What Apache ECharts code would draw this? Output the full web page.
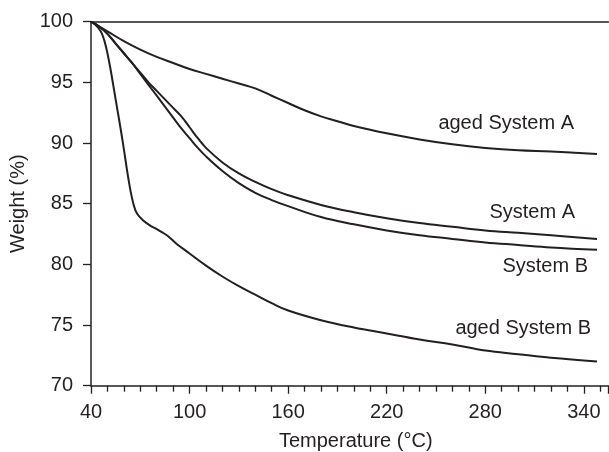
<!DOCTYPE html>
<html>
<head>
<meta charset="utf-8">
<script src="https://cdn.jsdelivr.net/npm/echarts@6/dist/echarts.min.js"></script>
<style>html,body{margin:0;padding:0;background:#fff}#c{width:609px;height:452px}</style>
</head>
<body>
<div id="c"></div>
<script>
// Data
const tempAgedA = [40,45,50,60,70,80,90,100,110,120,130,140,150,160,170,180,190,200,220,240,260,280,300,320,348];
const wAgedA    = [100,99.6,99.2,98.4,97.7,97.1,96.6,96.1,95.7,95.3,94.9,94.5,93.9,93.3,92.7,92.2,91.8,91.4,90.8,90.3,89.9,89.6,89.4,89.3,89.1];

const tempSysA = [40,45,50,55,60,65,70,75,80,85,90,95,100,105,110,120,130,140,150,160,180,200,220,240,260,280,300,320,348];
const wSysA    = [100,99.6,99.0,98.2,97.4,96.6,95.8,95.0,94.3,93.6,92.9,92.2,91.3,90.4,89.6,88.4,87.5,86.8,86.2,85.7,84.9,84.3,83.8,83.4,83.1,82.8,82.6,82.4,82.1];

const tempSysB = [40,45,50,55,60,65,70,75,80,85,90,95,100,105,110,120,130,140,150,160,180,200,220,240,260,280,300,320,348];
const wSysB    = [100,99.6,99.0,98.2,97.4,96.6,95.7,94.8,93.9,93.0,92.1,91.2,90.4,89.6,88.9,87.7,86.7,85.9,85.3,84.8,83.9,83.3,82.8,82.4,82.1,81.8,81.6,81.4,81.2];

const tempAgedB = [40,43,46,48,50,52,54,56,58,60,62,64,66,68,72,76,80,85,88,92,100,110,120,130,140,150,160,180,200,220,240,260,280,300,320,348];
const wAgedB    = [100,99.7,99.2,98.5,97.4,96.0,94.4,92.8,91.2,89.5,87.7,86.1,84.9,84.2,83.6,83.2,82.9,82.5,82.2,81.7,80.9,79.9,79.0,78.2,77.5,76.8,76.2,75.4,74.8,74.3,73.8,73.4,72.9,72.6,72.3,72.0];

const xTickInterval = 60;
const yTickInterval = 5;
const seriesNames = ['aged System A','System A','System B','aged System B'];

function pairs(t, w) { return t.map((v, i) => [v, w[i]]); }

const INK = '#231f20';
const FONT = 'Liberation Sans, Arial, Helvetica, sans-serif';

const chart = echarts.init(document.getElementById('c'));
const lineSeries = (name, t, w) => ({
  name, type: 'line', data: pairs(t, w), showSymbol: false, smooth: 0.4,
  lineStyle: { color: INK, width: 2 }, itemStyle: { color: INK }, silent: true, animation: false
});

chart.setOption({
  animation: false,
  backgroundColor: '#fff',
  grid: { left: 91, top: 21.7, width: 517.5, height: 364, containLabel: false, outerBoundsMode: 'none' },
  xAxis: [{
    type: 'value', min: 40, max: 355, interval: xTickInterval,
    name: 'Temperature (°C)', nameLocation: 'middle', nameGap: 46,
    nameTextStyle: { fontSize: 20, color: INK, fontFamily: FONT, padding: [0, 0, 0, 12] },
    axisLine: { lineStyle: { color: INK, width: 1.5 } },
    axisTick: { show: true, length: 8, lineStyle: { color: INK, width: 1.3 } },
    minorTick: { show: true, splitNumber: 6, length: 6, lineStyle: { color: INK, width: 1.3 } },
    splitLine: { show: false }, minorSplitLine: { show: false },
    axisLabel: { fontSize: 20, margin: 17, color: INK, fontFamily: FONT, showMaxLabel: false,
      formatter: v => ((v - 40) % xTickInterval === 0 ? String(v) : '') }
  }, {
    type: 'value', min: 40, max: 355, position: 'top',
    axisLine: { show: true, lineStyle: { color: INK, width: 1.5 } },
    axisTick: { show: false }, axisLabel: { show: false }, splitLine: { show: false }
  }],
  yAxis: {
    type: 'value', min: 70, max: 100, interval: yTickInterval,
    name: 'Weight (%)', nameLocation: 'middle', nameGap: 51,
    nameTextStyle: { fontSize: 20, color: INK, fontFamily: FONT },
    axisLine: { show: true, lineStyle: { color: INK, width: 1.5 } },
    axisTick: { show: true, length: 8, lineStyle: { color: INK, width: 1.3 } },
    splitLine: { show: false },
    axisLabel: { fontSize: 20, margin: 18, color: INK, fontFamily: FONT }
  },
  series: [
    lineSeries(seriesNames[0], tempAgedA, wAgedA),
    lineSeries(seriesNames[1], tempSysA, wSysA),
    lineSeries(seriesNames[2], tempSysB, wSysB),
    lineSeries(seriesNames[3], tempAgedB, wAgedB)
  ],
  graphic: [
    { type: 'text', x: 574, y: 123, style: { text: seriesNames[0], align: 'right', verticalAlign: 'middle', fontSize: 20, fontFamily: FONT, fill: INK } },
    { type: 'text', x: 575, y: 212, style: { text: seriesNames[1], align: 'right', verticalAlign: 'middle', fontSize: 20, fontFamily: FONT, fill: INK } },
    { type: 'text', x: 588, y: 266, style: { text: seriesNames[2], align: 'right', verticalAlign: 'middle', fontSize: 20, fontFamily: FONT, fill: INK } },
    { type: 'text', x: 591, y: 328, style: { text: seriesNames[3], align: 'right', verticalAlign: 'middle', fontSize: 20, fontFamily: FONT, fill: INK } }
  ]
});
</script>
</body>
</html>
